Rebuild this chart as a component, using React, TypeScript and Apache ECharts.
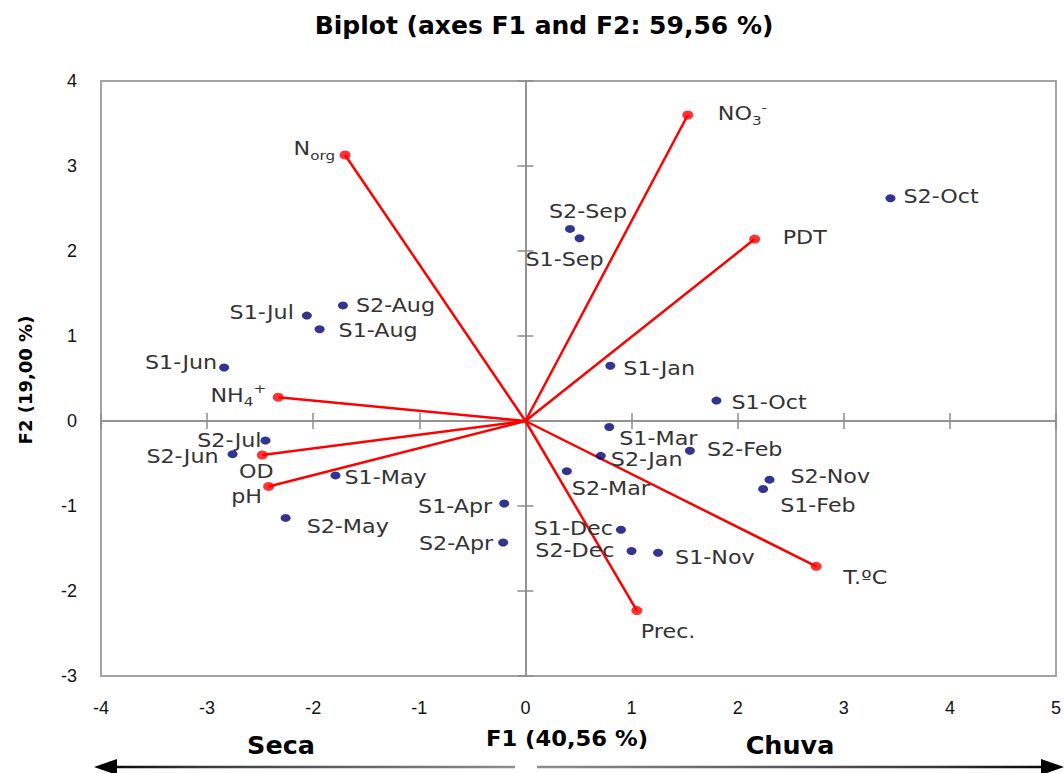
import React, { useEffect, useRef } from 'react';
import * as echarts from 'echarts';

// ---- Text ----
const TITLE = 'Biplot (axes F1 and F2: 59,56 %)';
const X_NAME = 'F1 (40,56 %)';
const Y_NAME = 'F2 (19,00 %)';
const LEFT_SEASON = 'Seca';
const RIGHT_SEASON = 'Chuva';

// ---- Axis ranges ----
const X_MIN = -4;
const X_MAX = 5;
const Y_MIN = -3;
const Y_MAX = 4;

// ---- Observations (sample-month scores on F1 / F2) ----
const obsNames = [
  'S2-Oct', 'S2-Sep', 'S1-Sep', 'S1-Jan', 'S1-Oct', 'S1-Jul', 'S2-Aug', 'S1-Aug',
  'S1-Jun', 'S2-Jul', 'S2-Jun', 'S1-May', 'S2-May', 'S1-Apr', 'S2-Apr', 'S1-Mar',
  'S2-Jan', 'S2-Feb', 'S2-Mar', 'S2-Nov', 'S1-Feb', 'S1-Dec', 'S2-Dec', 'S1-Nov',
];
const obsF1 = [
  3.44, 0.42, 0.51, 0.80, 1.80, -2.06, -1.72, -1.94,
  -2.84, -2.45, -2.76, -1.79, -2.26, -0.20, -0.21, 0.79,
  0.71, 1.55, 0.39, 2.30, 2.24, 0.90, 1.00, 1.25,
];
const obsF2 = [
  2.62, 2.26, 2.15, 0.65, 0.24, 1.24, 1.36, 1.08,
  0.63, -0.23, -0.39, -0.64, -1.14, -0.97, -1.43, -0.07,
  -0.41, -0.35, -0.59, -0.69, -0.80, -1.28, -1.53, -1.55,
];

// ---- Variables (loadings on F1 / F2) ----
const varNames = ['Norg', 'NO3-', 'PDT', 'NH4+', 'OD', 'pH', 'T.ºC', 'Prec.'];
const varF1 = [-1.70, 1.53, 2.16, -2.33, -2.48, -2.42, 2.74, 1.05];
const varF2 = [3.13, 3.60, 2.14, 0.28, -0.40, -0.77, -1.71, -2.23];

// Rich-text forms of variable names (sub/superscripts)
const varRich: Record<string, string> = {
  'Norg': '{n|N}{sub|org}',
  'NO3-': '{n|NO}{sub|3}{sup|-}',
  'NH4+': '{n|NH}{sub|4}{sup|+}',
};

// ---- Label placement (pixel offsets from the marker, alignment) ----
type Place = [number, number, 'left' | 'right' | 'center'];
const obsPlace: Record<string, Place> = {
  'S2-Oct': [13, -2, 'left'],
  'S2-Sep': [18, -17, 'center'],
  'S1-Sep': [-15, 21, 'center'],
  'S1-Jan': [13, 3, 'left'],
  'S1-Oct': [15, 2, 'left'],
  'S1-Jul': [-13, -3, 'right'],
  'S2-Aug': [13, 0, 'left'],
  'S1-Aug': [19, 1, 'left'],
  'S1-Jun': [-7, -5, 'right'],
  'S2-Jul': [-4, 0, 'right'],
  'S2-Jun': [-14, 2, 'right'],
  'S1-May': [9, 2, 'left'],
  'S2-May': [21, 9, 'left'],
  'S1-Apr': [-12, 3, 'right'],
  'S2-Apr': [-10, 1, 'right'],
  'S1-Mar': [10, 12, 'left'],
  'S2-Jan': [10, 4, 'left'],
  'S2-Feb': [17, -1, 'left'],
  'S2-Mar': [5, 17, 'left'],
  'S2-Nov': [21, -3, 'left'],
  'S1-Feb': [17, 17, 'left'],
  'S1-Dec': [-8, -1, 'right'],
  'S2-Dec': [-17, 0, 'right'],
  'S1-Nov': [17, 5, 'left'],
};
const varPlace: Record<string, Place> = {
  'Norg': [-10, -6, 'right'],
  'NO3-': [30, -1, 'left'],
  'PDT': [28, -2, 'left'],
  'NH4+': [-12, -2, 'right'],
  'OD': [-6, 17, 'center'],
  'pH': [-22, 10, 'center'],
  'T.ºC': [27, 11, 'left'],
  'Prec.': [4, 21, 'left'],
};

const STRETCH = 1.17;
const LABEL_FONT = '"DejaVu Sans", Verdana, sans-serif';
const HEAD_FONT = '"DejaVu Sans", Verdana, sans-serif';
const TICK_FONT = '"Liberation Sans", Arial, sans-serif';
const AXIS_GRAY = '#8c8c8c';
const RED = '#ff0000';
const NAVY = '#000074';
const LABEL_COLOR = '#333333';

function valueAxis(kind: 'x' | 'y', extra: any) {
  return {
    type: 'value',
    min: kind === 'x' ? X_MIN : Y_MIN,
    max: kind === 'x' ? X_MAX : Y_MAX,
    interval: 1,
    splitLine: { show: false },
    ...extra,
  };
}

function crossingAxis(kind: 'x' | 'y', inside: boolean, zeroIndex: number) {
  return valueAxis(kind, {
    position: kind === 'x' ? 'bottom' : 'left',
    axisLine: {
      show: true,
      onZero: true,
      onZeroAxisIndex: zeroIndex,
      lineStyle: { color: AXIS_GRAY, width: 1.5 },
    },
    axisTick: { show: true, inside, length: 8, lineStyle: { color: AXIS_GRAY, width: 1.5 } },
    axisLabel: { show: false },
  });
}

export default function App() {
  const ref = useRef<HTMLDivElement>(null);

  useEffect(() => {
    document.body.style.margin = '0';
    if (!ref.current) return;
    const chart = echarts.init(ref.current, undefined, { renderer: 'svg' });

    const labelText = (
      name: string,
      place: Place,
      p: number[],
      rich?: string,
    ) => ({
      type: 'text',
      x: p[0] + place[0],
      y: p[1] + place[1],
      scaleX: STRETCH,
      style: {
        text: rich ?? name,
        fill: LABEL_COLOR,
        fontSize: 19,
        fontFamily: LABEL_FONT,
        align: place[2],
        verticalAlign: 'middle',
        rich: rich
          ? {
              n: { fontSize: 19, fontFamily: LABEL_FONT, fill: LABEL_COLOR, lineHeight: 26, verticalAlign: 'middle' },
              sub: { fontSize: 13, fontFamily: LABEL_FONT, fill: LABEL_COLOR, lineHeight: 13, verticalAlign: 'bottom' },
              sup: { fontSize: 13, fontFamily: LABEL_FONT, fill: LABEL_COLOR, lineHeight: 13, verticalAlign: 'top' },
            }
          : undefined,
      },
    });

    const leftGrad = new echarts.graphic.LinearGradient(
      95, 0, 515, 0,
      [
        { offset: 0, color: '#000000' },
        { offset: 0.25, color: '#3a3a3a' },
        { offset: 1, color: '#8f8f8f' },
      ],
      true,
    );
    const rightGrad = new echarts.graphic.LinearGradient(
      537, 0, 1062, 0,
      [
        { offset: 0, color: '#8f8f8f' },
        { offset: 0.75, color: '#3a3a3a' },
        { offset: 1, color: '#000000' },
      ],
      true,
    );

    const option: any = {
      animation: false,
      backgroundColor: '#ffffff',
      grid: {
        left: 101,
        right: 7,
        top: 81,
        bottom: 97,
        show: true,
        borderColor: '#a3a3a3',
        borderWidth: 2,
      },
      xAxis: [
        valueAxis('x', {
          position: 'bottom',
          axisLine: { show: false, onZero: false },
          axisTick: { show: false },
          axisLabel: { margin: 23, fontSize: 18, fontFamily: TICK_FONT, color: '#111' },
        }),
        crossingAxis('x', false, 0),
        crossingAxis('x', true, 1),
      ],
      yAxis: [
        valueAxis('y', {
          position: 'left',
          axisLine: { show: false, onZero: false },
          axisTick: { show: false },
          axisLabel: { margin: 24, fontSize: 18, fontFamily: TICK_FONT, color: '#111' },
        }),
        crossingAxis('y', false, 0),
        crossingAxis('y', true, 1),
      ],
      graphic: [
        {
          type: 'text', x: 544, y: 25,
          style: { text: TITLE, font: `bold 25px ${HEAD_FONT}`, fill: '#000', align: 'center', verticalAlign: 'middle' },
        },
        {
          type: 'text', x: 567, y: 739, scaleX: 1.08,
          style: { text: X_NAME, font: `bold 21px ${HEAD_FONT}`, fill: '#000', align: 'center', verticalAlign: 'middle' },
        },
        {
          type: 'text', x: 25, y: 380, rotation: Math.PI / 2,
          style: { text: Y_NAME, font: `bold 18px ${HEAD_FONT}`, fill: '#000', align: 'center', verticalAlign: 'middle' },
        },
        {
          type: 'text', x: 281, y: 746, scaleX: 1.06,
          style: { text: LEFT_SEASON, font: `bold 24px ${HEAD_FONT}`, fill: '#000', align: 'center', verticalAlign: 'middle' },
        },
        {
          type: 'text', x: 790, y: 746, scaleX: 1.06,
          style: { text: RIGHT_SEASON, font: `bold 24px ${HEAD_FONT}`, fill: '#000', align: 'center', verticalAlign: 'middle' },
        },
        {
          type: 'line', shape: { x1: 112, y1: 767, x2: 515, y2: 767 },
          style: { stroke: leftGrad, lineWidth: 2.5 },
        },
        {
          type: 'polygon', shape: { points: [[94, 767], [117, 759], [117, 775]] },
          style: { fill: '#000' },
        },
        {
          type: 'line', shape: { x1: 537, y1: 767, x2: 1045, y2: 767 },
          style: { stroke: rightGrad, lineWidth: 2.5 },
        },
        {
          type: 'polygon', shape: { points: [[1064, 767], [1041, 759], [1041, 775]] },
          style: { fill: '#000' },
        },
      ],
      series: [
        {
          type: 'lines',
          coordinateSystem: 'cartesian2d',
          xAxisIndex: 0,
          yAxisIndex: 0,
          silent: true,
          lineStyle: { color: RED, width: 2.5, opacity: 1 },
          data: varNames.map((_, i) => ({ coords: [[0, 0], [varF1[i], varF2[i]]] })),
        },
        {
          type: 'scatter',
          silent: true,
          symbol: 'circle',
          symbolSize: [11, 9],
          itemStyle: { color: RED },
          data: varNames.map((_, i) => [varF1[i], varF2[i]]),
        },
        {
          type: 'scatter',
          silent: true,
          symbol: 'circle',
          symbolSize: [10, 8],
          itemStyle: { color: NAVY },
          data: obsNames.map((_, i) => [obsF1[i], obsF2[i]]),
        },
        {
          type: 'custom',
          silent: true,
          data: obsNames.map((_, i) => [obsF1[i], obsF2[i]]),
          renderItem: (params: any, api: any) => {
            const i = params.dataIndex;
            const p = api.coord([api.value(0), api.value(1)]);
            return labelText(obsNames[i], obsPlace[obsNames[i]], p);
          },
        },
        {
          type: 'custom',
          silent: true,
          data: varNames.map((_, i) => [varF1[i], varF2[i]]),
          renderItem: (params: any, api: any) => {
            const i = params.dataIndex;
            const p = api.coord([api.value(0), api.value(1)]);
            return labelText(varNames[i], varPlace[varNames[i]], p, varRich[varNames[i]]);
          },
        },
      ],
    };

    chart.setOption(option);
    return () => chart.dispose();
  }, []);

  return <div ref={ref} style={{ width: 1064, height: 773 }} />;
}
